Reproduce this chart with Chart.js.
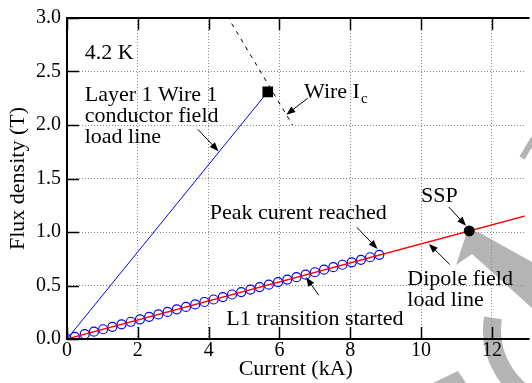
<!DOCTYPE html>
<html>
<head>
<meta charset="utf-8">
<script src="https://cdn.jsdelivr.net/npm/chart.js@4.4.1/dist/chart.umd.min.js"></script>
<style>
  html, body { margin: 0; padding: 0; background: #fff; overflow: hidden; }
</style>
</head>
<body>
<canvas id="chart" width="532" height="383"></canvas>
<script>
// measured points during the L1 transition (blue circles)
const measCurrent = [0, 0.22, 0.50, 0.76, 1.02, 1.28, 1.54, 1.80, 2.06, 2.32, 2.58, 2.84,
  3.10, 3.36, 3.62, 3.88, 4.14, 4.40, 4.66, 4.92, 5.18, 5.44, 5.70, 5.96, 6.22, 6.48,
  6.74, 7.00, 7.26, 7.52, 7.78, 8.04, 8.30, 8.56, 8.82];
const measField = [0, 0.020, 0.045, 0.068, 0.091, 0.114, 0.137, 0.161, 0.184, 0.207, 0.230, 0.253,
  0.277, 0.300, 0.323, 0.346, 0.369, 0.392, 0.416, 0.439, 0.462, 0.485, 0.508, 0.532, 0.555, 0.578,
  0.601, 0.624, 0.648, 0.671, 0.694, 0.717, 0.740, 0.764, 0.787];

// load lines
const wireLoadCurrent = [0, 5.67];
const wireLoadField = [0, 2.31];
const dipoleCurrent = [0, 13.5];
const dipoleField = [0, 1.20];

// wire critical current curve (dashed)
const icCurrent = [4.52, 6.37];
const icField = [3.02, 2.0];

// short sample point
const sspCurrent = [11.36];
const sspField = [1.01];

const xTicks = [0, 2, 4, 6, 8, 10, 12];
const yTicks = [0, 0.5, 1.0, 1.5, 2.0, 2.5, 3.0];

const FONT = '"Liberation Serif", Tinos, "DejaVu Serif", "Noto Serif", serif';

const pts = (xs, ys) => xs.map((x, i) => ({ x: x, y: ys[i] }));

// annotations in data coordinates
const notes = [
  { lines: ['4.2 K'], x: 0.5, y: 2.619 },
  { lines: ['Layer 1 Wire 1', 'conductor field', 'load line'], x: 0.5, y: 2.22 },
  { lines: ['Peak curent reached'], x: 4.03, y: 1.124 },
  { lines: ['SSP'], x: 10.0, y: 1.282 },
  { lines: ['Dipole field', 'load line'], x: 9.61, y: 0.502 },
  { lines: ['L1 transition started'], x: 4.5, y: 0.130 },
];
const arrows = [
  [3.694, 1.960, 4.278, 1.755],
  [6.797, 2.250, 6.194, 2.096],
  [8.186, 1.043, 8.769, 0.842],
  [10.778, 1.235, 11.269, 1.059],
  [10.806, 0.697, 10.222, 0.889],
  [7.111, 0.409, 6.75, 0.576],
];

const background = {
  id: 'background',
  beforeDraw(chart) {
    const ctx = chart.ctx;
    ctx.save();
    ctx.fillStyle = '#fff';
    ctx.fillRect(0, 0, chart.width, chart.height);
    // grey watermark fragments
    ctx.fillStyle = '#b4b4b4';
    ctx.strokeStyle = '#b4b4b4';
    ctx.beginPath();
    ctx.moveTo(468, 229);
    ctx.lineTo(480, 233);
    ctx.lineTo(532, 262);
    ctx.lineTo(532, 308);
    ctx.lineTo(472, 254);
    ctx.lineTo(456, 265);
    ctx.closePath();
    ctx.fill();
    ctx.lineWidth = 18;
    ctx.beginPath();
    ctx.arc(570, 330, 78, Math.PI * 0.62, Math.PI * 1.05);
    ctx.stroke();
    ctx.beginPath();
    ctx.moveTo(433, 383);
    ctx.lineTo(458, 371);
    ctx.lineTo(466, 383);
    ctx.closePath();
    ctx.fill();
    ctx.lineWidth = 6;
    ctx.beginPath();
    ctx.moveTo(522, 158);
    ctx.lineTo(534, 138);
    ctx.stroke();
    ctx.restore();
  }
};

const frame = {
  id: 'frame',
  afterDatasetsDraw(chart) {
    const ctx = chart.ctx;
    const a = chart.chartArea;
    const xs = chart.scales.x, ys = chart.scales.y;
    ctx.save();
    ctx.strokeStyle = '#000';
    ctx.lineWidth = 1.5;
    xTicks.forEach(v => {
      const px = Math.round(xs.getPixelForValue(v)) + 0.5;
      ctx.beginPath();
      ctx.moveTo(px, a.bottom); ctx.lineTo(px, a.bottom - 12);
      ctx.moveTo(px, a.top); ctx.lineTo(px, a.top + 12);
      ctx.stroke();
    });
    yTicks.forEach(v => {
      const py = Math.round(ys.getPixelForValue(v)) + 0.5;
      ctx.beginPath();
      ctx.moveTo(a.left, py); ctx.lineTo(a.left + 12, py);
      ctx.stroke();
    });
    ctx.lineWidth = 2;
    ctx.beginPath();
    ctx.moveTo(a.right + 5, a.top);
    ctx.lineTo(a.left, a.top);
    ctx.lineTo(a.left, a.bottom);
    ctx.lineTo(a.right + 5, a.bottom);
    ctx.stroke();

    // arrows
    ctx.fillStyle = '#000';
    ctx.lineWidth = 1;
    arrows.forEach(([x0, y0, x1, y1]) => {
      const ax = xs.getPixelForValue(x0), ay = ys.getPixelForValue(y0);
      const bx = xs.getPixelForValue(x1), by = ys.getPixelForValue(y1);
      const ang = Math.atan2(by - ay, bx - ax);
      ctx.beginPath();
      ctx.moveTo(ax, ay);
      ctx.lineTo(bx - 6 * Math.cos(ang), by - 6 * Math.sin(ang));
      ctx.stroke();
      ctx.beginPath();
      ctx.moveTo(bx, by);
      ctx.lineTo(bx - 9 * Math.cos(ang) + 3.5 * Math.sin(ang), by - 9 * Math.sin(ang) - 3.5 * Math.cos(ang));
      ctx.lineTo(bx - 9 * Math.cos(ang) - 3.5 * Math.sin(ang), by - 9 * Math.sin(ang) + 3.5 * Math.cos(ang));
      ctx.closePath();
      ctx.fill();
    });

    // texts
    ctx.font = '22px ' + FONT;
    ctx.textAlign = 'left';
    ctx.textBaseline = 'alphabetic';
    notes.forEach(n => {
      const px = xs.getPixelForValue(n.x), py = ys.getPixelForValue(n.y);
      n.lines.forEach((t, i) => ctx.fillText(t, px, py + i * 21));
    });
    // Wire I_c with subscript
    const wx = xs.getPixelForValue(6.694), wy = ys.getPixelForValue(2.248);
    ctx.fillText('Wire I', wx, wy);
    const w = ctx.measureText('Wire I').width;
    ctx.font = '15px ' + FONT;
    ctx.fillText('c', wx + w + 1, wy + 5);
    ctx.restore();
  }
};

const ctx = document.getElementById('chart').getContext('2d');
new Chart(ctx, {
  type: 'scatter',
  data: {
    datasets: [
      {
        data: pts(sspCurrent, sspField),
        pointRadius: 5.5, pointStyle: 'circle',
        backgroundColor: '#000', borderColor: '#000', borderWidth: 0,
      },
      {
        data: pts([wireLoadCurrent[1]], [wireLoadField[1]]),
        pointRadius: 7.5, pointStyle: 'rect',
        backgroundColor: '#000', borderColor: '#000', borderWidth: 0,
      },
      {
        data: pts(dipoleCurrent, dipoleField),
        showLine: true, borderColor: '#ff0000', borderWidth: 1.3, pointRadius: 0,
      },
      {
        data: pts(measCurrent, measField),
        pointRadius: 4.5, pointStyle: 'circle', borderColor: '#0000ff',
        backgroundColor: 'rgba(0,0,0,0)', borderWidth: 1.2,
      },
      {
        data: pts(wireLoadCurrent, wireLoadField),
        showLine: true, borderColor: '#0000ff', borderWidth: 1, pointRadius: 0,
      },
      {
        data: pts(icCurrent, icField),
        showLine: true, borderColor: '#000', borderWidth: 1, borderDash: [4, 5], pointRadius: 0,
      },
    ]
  },
  options: {
    responsive: false,
    animation: false,
    devicePixelRatio: 1,
    events: [],
    layout: { padding: { top: 16, left: 0, right: 0, bottom: 0 } },
    plugins: { legend: { display: false }, tooltip: { enabled: false } },
    scales: {
      x: {
        type: 'linear', min: 0, max: 12.92,
        afterBuildTicks: s => { s.ticks = xTicks.map(v => ({ value: v })); },
        afterFit: s => { s.height = 44; },
        grid: { color: '#8a8a8a', lineWidth: 1, drawTicks: false },
        border: { display: false, dash: [1, 2] },
        ticks: { color: '#000', padding: 0, font: { family: FONT, size: 20 }, callback: v => String(v) },
        title: { display: true, text: 'Current (kA)', color: '#000', padding: { top: 0, bottom: 1 },
          font: { family: FONT, size: 22 } },
      },
      y: {
        type: 'linear', min: 0, max: 3,
        afterBuildTicks: s => { s.ticks = yTicks.map(v => ({ value: v })); },
        afterFit: s => { s.width = 67; },
        grid: { color: '#8a8a8a', lineWidth: 1, drawTicks: false },
        border: { display: false, dash: [1, 2] },
        ticks: { color: '#000', padding: 6, font: { family: FONT, size: 20 }, callback: v => v.toFixed(1) },
        title: { display: true, text: 'Flux density (T)', color: '#000', padding: { top: 5, bottom: 0 },
          font: { family: FONT, size: 22 } },
      },
    },
  },
  plugins: [background, frame],
});
</script>
</body>
</html>
